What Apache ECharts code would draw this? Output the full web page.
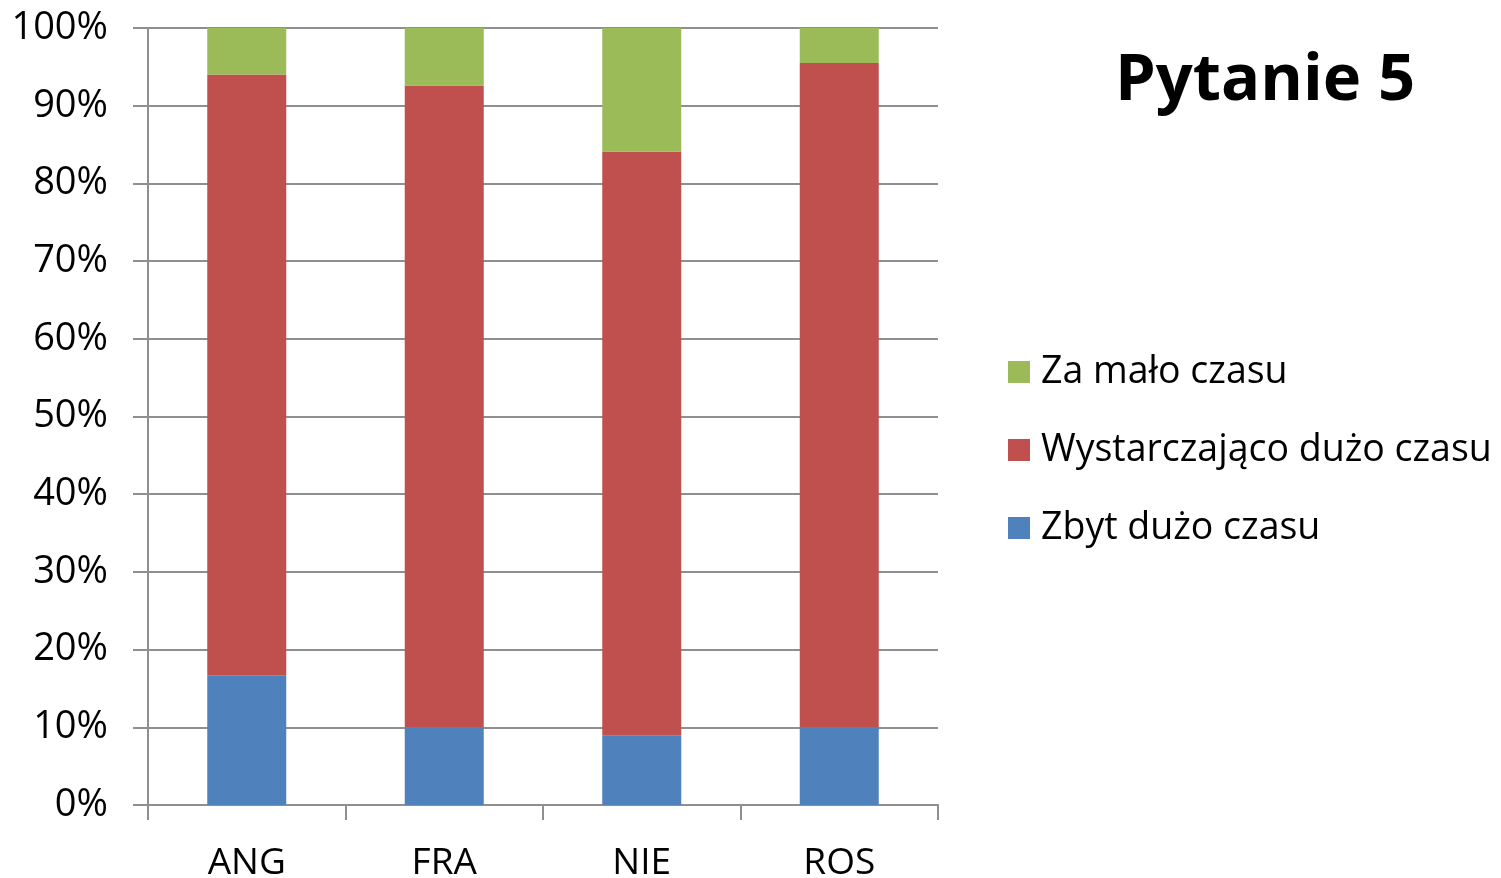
<!DOCTYPE html>
<html>
<head>
<meta charset="utf-8">
<script src="https://cdn.jsdelivr.net/npm/echarts@6/dist/echarts.min.js"></script>
<style>
html,body{margin:0;padding:0;background:#fff;}
#main{width:1501px;height:878px;}
</style>
</head>
<body>
<div id="main"></div>
<script>
let categories=['ANG','FRA','NIE','ROS'];
let zbytDuzo=[16.7,10.0,8.9,10.0];
let wystarczajaco=[77.3,82.6,75.2,85.5];
let zaMalo=[6.0,7.4,15.9,4.5];
let seriesNames=['Zbyt dużo czasu','Wystarczająco dużo czasu','Za mało czasu'];
let seriesColors=['#4F81BD','#C0504D','#9BBB59'];
let seriesData=[zbytDuzo,wystarczajaco,zaMalo];

let font='"Open Sans", sans-serif';
let gridColor='#8f8f8f';

let option={
    animation:false,
    title:{
        text:'Pytanie 5',
        left:1110,
        top:44,
        textStyle:{fontFamily:font,fontSize:65,fontWeight:'bold',color:'#000'}
    },
    legend:{
        orient:'vertical',
        left:1003,
        top:346,
        itemWidth:22,
        itemHeight:22,
        itemGap:36,
        icon:'rect',
        data:seriesNames.slice().reverse(),
        textStyle:{fontFamily:font,fontSize:37.5,color:'#000',lineHeight:42,padding:[0,0,0,6]}
    },
    grid:{left:148,right:563,top:28,bottom:73,outerBoundsMode:'none',containLabel:false},
    xAxis:{
        type:'category',
        data:categories,
        axisLine:{lineStyle:{color:gridColor,width:2}},
        axisTick:{show:true,length:15,lineStyle:{color:gridColor,width:2}},
        axisLabel:{fontFamily:font,fontSize:37,color:'#000',margin:40}
    },
    yAxis:{
        type:'value',
        min:0,
        max:100,
        interval:10,
        axisLine:{show:true,lineStyle:{color:gridColor,width:2}},
        axisTick:{show:true,length:15,lineStyle:{color:gridColor,width:2}},
        splitLine:{lineStyle:{color:gridColor,width:2}},
        axisLabel:{fontFamily:font,fontSize:38,color:'#000',margin:40,padding:[11,0,0,0],formatter:'{value}%'}
    },
    series:seriesNames.map(function(name,i){
        return {
            name:name,
            type:'bar',
            stack:'total',
            barWidth:'40%',
            itemStyle:{color:seriesColors[i]},
            data:seriesData[i]
        };
    })
};

let myChart=echarts.init(document.getElementById('main'));
myChart.setOption(option);
</script>
</body>
</html>
